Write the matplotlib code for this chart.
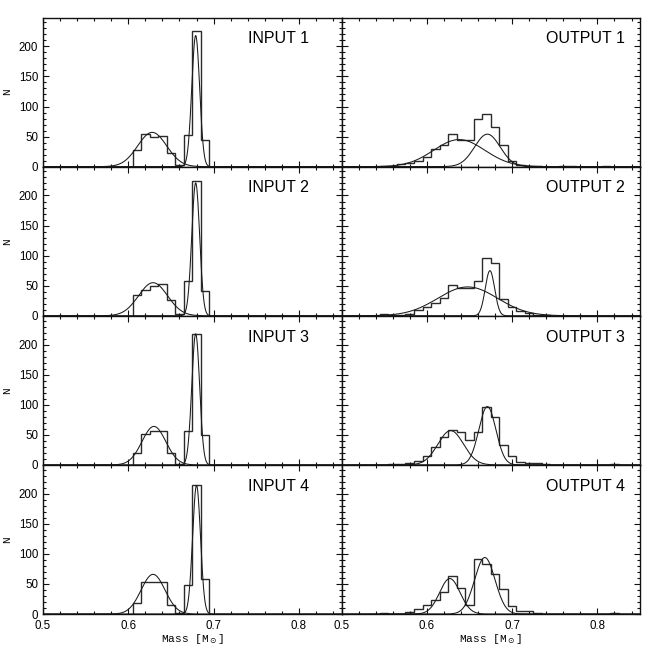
#################################################
## Importing
#################################################
import numpy as np
import matplotlib
matplotlib.use('Agg')
import matplotlib.pyplot as plt
from matplotlib.ticker import MultipleLocator

#################################################
## Data
#################################################
bin_width = 0.01

# input histograms (bins start at 0.605)
in_start = 0.605
in1_counts = [28, 54, 50, 51, 23, 2, 53, 226, 44]
in2_counts = [35, 43, 50, 53, 27, 3, 58, 224, 42]
in3_counts = [19, 51, 57, 57, 19, 2, 56, 218, 49]
in4_counts = [18, 54, 54, 54, 15, 1, 48, 214, 59]

# output histograms
out1_start = 0.545
out1_counts = [1, 1, 4, 6, 9, 16, 30, 36, 55, 45, 45, 79, 88, 66, 36, 10, 3, 1, 1,
               0, 0, 1, 1, 0, 0, 0, 1]
out2_start = 0.545
out2_counts = [3, 1, 2, 3, 9, 15, 22, 30, 51, 46, 46, 57, 96, 88, 28, 14, 8, 4, 2, 1]
out3_start = 0.555
out3_counts = [1, 2, 3, 7, 15, 29, 47, 58, 54, 42, 55, 97, 79, 33, 15, 4, 3, 3, 1,
               0, 0, 0, 0, 0, 0, 0, 1]
out4_start = 0.545
out4_counts = [1, 0, 0, 4, 8, 15, 24, 36, 63, 43, 15, 91, 84, 66, 42, 13, 5, 5, 1,
               0, 0, 0, 0, 0, 0, 0, 0, 1]

# gaussian components: (centre, sigma, peak)
in1_gauss = [(0.628, 0.017, 57), (0.679, 0.0046, 218)]
in2_gauss = [(0.629, 0.017, 55), (0.679, 0.0046, 221)]
in3_gauss = [(0.630, 0.014, 64), (0.679, 0.0046, 218)]
in4_gauss = [(0.629, 0.014, 66), (0.680, 0.0046, 214)]
out1_gauss = [(0.638, 0.030, 45), (0.671, 0.015, 54)]
out2_gauss = [(0.648, 0.035, 48), (0.674, 0.0055, 75)]
out3_gauss = [(0.628, 0.015, 57), (0.671, 0.010, 97)]
out4_gauss = [(0.627, 0.012, 59), (0.668, 0.012, 94)]

in_labels = ['INPUT 1', 'INPUT 2', 'INPUT 3', 'INPUT 4']
out_labels = ['OUTPUT 1', 'OUTPUT 2', 'OUTPUT 3', 'OUTPUT 4']

#################################################
## Plot
#################################################
fig, axes = plt.subplots(4, 2, figsize=(6.48, 6.46), dpi=100, sharex=True, sharey=True)
fig.subplots_adjust(left=0.0664, right=0.9877, bottom=0.0495, top=0.9729,
                    hspace=0, wspace=0)

panels = [
    (in_start, in1_counts, in1_gauss, out1_start, out1_counts, out1_gauss),
    (in_start, in2_counts, in2_gauss, out2_start, out2_counts, out2_gauss),
    (in_start, in3_counts, in3_gauss, out3_start, out3_counts, out3_gauss),
    (in_start, in4_counts, in4_gauss, out4_start, out4_counts, out4_gauss),
]

xx = np.linspace(0.5, 0.85, 1200)
label_font = 'Liberation Mono'

for row, (s_in, c_in, g_in, s_out, c_out, g_out) in enumerate(panels):
    for col, (start, counts, gauss, name) in enumerate(
            [(s_in, c_in, g_in, in_labels[row]), (s_out, c_out, g_out, out_labels[row])]):
        ax = axes[row, col]
        edges = start + bin_width * np.arange(len(counts) + 1)
        ax.stairs(counts, edges, baseline=0, color='#2a2a2a', lw=1.0)
        for mu, sig, amp in gauss:
            ax.plot(xx, amp * np.exp(-0.5 * ((xx - mu) / sig) ** 2), color='#1a1a1a', lw=0.75)
        ax.text(0.74, 205, name, fontsize=11.5, family='Liberation Sans', va='baseline')

        ax.set_xlim(0.5, 0.85)
        ax.set_ylim(0, 248)
        ax.xaxis.set_major_locator(MultipleLocator(0.1))
        ax.xaxis.set_minor_locator(MultipleLocator(0.02))
        ax.yaxis.set_major_locator(MultipleLocator(50))
        ax.yaxis.set_minor_locator(MultipleLocator(10))
        ax.tick_params(which='both', direction='in', top=True, right=True,
                       labelsize=8.3, width=0.8, color='#111111')
        ax.tick_params(which='major', length=4.3, pad=3.5)
        ax.tick_params(axis='x', which='major', pad=4.2)
        ax.tick_params(which='minor', length=2.2)
        for lab in ax.get_xticklabels() + ax.get_yticklabels():
            lab.set_family('Liberation Sans')
        for sp in ax.spines.values():
            sp.set_linewidth(1.0)
            sp.set_color('#111111')

        if col == 0:
            ax.set_ylabel('N', fontsize=8, family=label_font)
            ax.yaxis.set_label_coords(-0.104, 0.5)
        if row == 3:
            ax.set_xlabel(r'Mass [M$_\odot$]', fontsize=8, family=label_font)
            ax.xaxis.set_label_coords(0.5, -0.118)
            ax.xaxis.set_major_formatter(plt.FuncFormatter(lambda v, p: '%.1f' % v))

fig.savefig('out.png', dpi=100)
